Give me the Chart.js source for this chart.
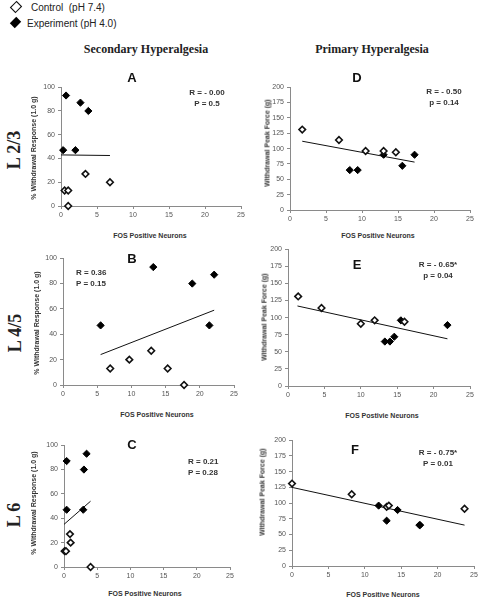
<!DOCTYPE html>
<html>
<head>
<meta charset="utf-8">
<script src="https://cdn.jsdelivr.net/npm/chart.js@4.4.1/dist/chart.umd.min.js"></script>
<style>
  body { margin: 0; background: #fff; }
  #page { position: relative; width: 480px; height: 600px; overflow: hidden; font-family: "Liberation Sans", Arial, sans-serif; color: #222; }
  .abs { position: absolute; white-space: nowrap; }
  canvas { position: absolute; }
  .rowlab { font-family: "Liberation Serif", "DejaVu Serif", serif; font-weight: bold; font-size: 18px; transform: translate(-50%, -50%) rotate(-90deg); }
  .colhead { font-family: "Liberation Serif", "DejaVu Serif", serif; font-weight: bold; font-size: 12px; transform: translate(-50%, -50%); }
  .xtitle { font-weight: bold; font-size: 7px; transform: translate(-50%, -50%); color: #333; }
  .ytitle { font-weight: bold; font-size: 7px; transform: translate(-50%, -50%) rotate(-90deg); color: #333; }
  .letter { font-size: 13px; font-weight: bold; transform: translate(-50%, -50%); color: #111; }
  .stat { font-size: 8px; line-height: 11px; text-align: center; font-weight: bold; color: #333; }
  .legend { font-size: 10px; color: #222; }
</style>
</head>
<body>
<div id="page">
  <div class="abs" style="left:12px;top:3px;width:6px;height:6px;border:1.5px solid #111;transform:rotate(45deg) scaleY(1.2);background:#fff"></div>
  <div class="abs legend" style="left:31px;top:2px">Control&nbsp; (pH 7.4)</div>
  <div class="abs" style="left:12px;top:19px;width:7px;height:7px;background:#000;transform:rotate(45deg) scaleY(1.3)"></div>
  <div class="abs legend" style="left:27px;top:18px">Experiment (pH 4.0)</div>

  <div class="abs colhead" style="left:146px;top:49px">Secondary Hyperalgesia</div>
  <div class="abs colhead" style="left:372px;top:49px">Primary Hyperalgesia</div>

  <div class="abs rowlab" style="left:14px;top:150px">L 2/3</div>
  <div class="abs rowlab" style="left:15px;top:333px">L 4/5</div>
  <div class="abs rowlab" style="left:14px;top:515px">L 6</div>
</div>
<script>
// ---- data ----
const xTicks = [0, 5, 10, 15, 20, 25];
const pctTicks = [0, 20, 40, 60, 80, 100];
const forceTicks = [0, 25, 50, 75, 100, 125, 150, 175, 200];

// A  (L 2/3, secondary)
const aControl = [[0.5, 13], [1.0, 13], [1.0, 0], [3.4, 27], [6.8, 20]];
const aExperiment = [[0.3, 47], [0.7, 93], [2.0, 47], [2.7, 87], [3.8, 80]];
const aTrend = [[0, 43], [6.8, 42.5]];
// D  (L 2/3, primary)
const dControl = [[1.7, 131], [6.8, 114], [10.5, 96], [13.0, 96], [14.7, 94]];
const dExperiment = [[8.3, 65], [9.4, 65], [13.0, 90], [15.6, 72], [17.3, 90]];
const dTrend = [[1.7, 112], [17.3, 78]];
// B  (L 4/5, secondary)
const bControl = [[6.9, 13], [9.7, 20], [12.9, 27], [15.3, 13], [17.7, 0]];
const bExperiment = [[5.5, 47], [13.2, 93], [18.9, 80], [21.4, 47], [22.1, 87]];
const bTrend = [[5.5, 24], [22.1, 59]];
// E  (L 4/5, primary)
const eControl = [[1.4, 131], [4.6, 114], [10.0, 91], [11.9, 96], [16.0, 94]];
const eExperiment = [[13.3, 65], [14.0, 65], [14.6, 72], [15.5, 96], [21.9, 89]];
const eTrend = [[1.3, 117], [21.9, 69]];
// C  (L 6, secondary)
const cControl = [[0.1, 13], [0.3, 13], [0.9, 27], [1.0, 20], [4.0, 0]];
const cExperiment = [[0.4, 87], [0.4, 47], [3.0, 80], [3.4, 93], [2.9, 47]];
const cTrend = [[0, 35], [4.0, 54]];
// F  (L 6, primary)
const fControl = [[0, 131], [8.2, 114], [13.0, 94], [13.3, 96], [23.7, 91]];
const fExperiment = [[11.9, 96], [13.0, 72], [14.5, 89], [17.5, 65], [17.6, 65]];
const fTrend = [[0, 125], [23.7, 65]];

const panels = [
  { id: 'A', control: aControl, exp: aExperiment, trend: aTrend, yMax: 100, yTicks: pctTicks,
    box: [61, 86, 241, 206], letter: [132, 77], stat: ['R = - 0.00', 'P = 0.5'], statPos: [207, 87, 'c'],
    ytitle: '% Withdrawal Response (1.0 g)', ytPos: [33, 148], xtitle: 'FOS Positive Neurons', xtPos: [150, 235] },
  { id: 'D', control: dControl, exp: dExperiment, trend: dTrend, yMax: 200, yTicks: forceTicks,
    box: [290, 86, 470, 210], letter: [357, 77], stat: ['R = - 0.50', 'p = 0.14'], statPos: [444, 86, 'c'],
    ytitle: 'Withdrawal Peak Force (g)', ytPos: [267, 143], xtitle: 'FOS Positive Neurons', xtPos: [378, 235] },
  { id: 'B', control: bControl, exp: bExperiment, trend: bTrend, yMax: 100, yTicks: pctTicks,
    box: [63, 257, 234, 385], letter: [132, 258], stat: ['R = 0.36', 'P = 0.15'], statPos: [76, 267, 'l'],
    ytitle: '% Withdrawal Response (1.0 g)', ytPos: [36, 323], xtitle: 'FOS Positive Neurons', xtPos: [157, 414] },
  { id: 'E', control: eControl, exp: eExperiment, trend: eTrend, yMax: 200, yTicks: forceTicks,
    box: [288, 248, 470, 386], letter: [357, 264], stat: ['R = - 0.65*', 'p = 0.04'], statPos: [438, 259, 'c'],
    ytitle: 'Withdrawal Peak Force (g)', ytPos: [264, 317], xtitle: 'FOS Postivie Neurons', xtPos: [382, 415] },
  { id: 'C', control: cControl, exp: cExperiment, trend: cTrend, yMax: 100, yTicks: pctTicks,
    box: [64, 444, 230, 567], letter: [132, 444], stat: ['R = 0.21', 'P = 0.28'], statPos: [188, 456, 'l'],
    ytitle: '% Withdrawal Response (1.0 g)', ytPos: [33, 503], xtitle: 'FOS Positive Neurons', xtPos: [145, 593] },
  { id: 'F', control: fControl, exp: fExperiment, trend: fTrend, yMax: 200, yTicks: forceTicks,
    box: [292, 439, 474, 566], letter: [355, 449], stat: ['R = - 0.75*', 'P = 0.01'], statPos: [438, 447, 'c'],
    ytitle: 'Withdrawal Peak Force (g)', ytPos: [262, 492], xtitle: 'FOS Positive Neurons', xtPos: [383, 594] }
];

const page = document.getElementById('page');
const toPts = arr => arr.map(p => ({ x: p[0], y: p[1] }));

function addText(cls, txt, x, y, extra) {
  const d = document.createElement('div');
  d.className = 'abs ' + cls;
  d.style.left = x + 'px';
  d.style.top = y + 'px';
  d.innerHTML = txt;
  if (extra) Object.assign(d.style, extra);
  page.appendChild(d);
}

const Y_W = 26, X_H = 14, PAD_T = 6, PAD_R = 10;

panels.forEach(p => {
  const [L, T, R, B] = p.box;
  const canvas = document.createElement('canvas');
  const w = (R - L) + Y_W + PAD_R;
  const h = (B - T) + PAD_T + X_H;
  canvas.style.left = (L - Y_W) + 'px';
  canvas.style.top = (T - PAD_T) + 'px';
  canvas.width = w;
  canvas.height = h;
  canvas.style.width = w + 'px';
  canvas.style.height = h + 'px';
  page.appendChild(canvas);

  const axisGrey = '#8a8a8a';
  new Chart(canvas.getContext('2d'), {
    type: 'scatter',
    data: {
      datasets: [
        { label: 'trend', type: 'line', data: toPts(p.trend), borderColor: '#111', borderWidth: 1,
          pointRadius: 0, fill: false, order: 3 },
        { label: 'Control (pH 7.4)', data: toPts(p.control), pointStyle: 'rectRot', pointRadius: 3.3,
          backgroundColor: '#fff', borderColor: '#111', borderWidth: 1.6, clip: false, order: 1 },
        { label: 'Experiment (pH 4.0)', data: toPts(p.exp), pointStyle: 'rectRot', pointRadius: 3.6,
          backgroundColor: '#000', borderColor: '#000', borderWidth: 1, clip: false, order: 2 }
      ]
    },
    options: {
      responsive: false,
      animation: false,
      layout: { padding: { top: PAD_T, right: PAD_R, left: 0, bottom: 0 } },
      plugins: { legend: { display: false }, tooltip: { enabled: false } },
      scales: {
        x: {
          type: 'linear', min: 0, max: 25,
          afterBuildTicks: s => { s.ticks = xTicks.map(v => ({ value: v })); },
          afterFit: s => { s.height = X_H; },
          grid: { drawOnChartArea: false, drawTicks: true, tickLength: 3, color: axisGrey },
          border: { color: axisGrey, width: 1 },
          ticks: { color: '#555', font: { size: 7, family: 'Liberation Sans' }, padding: 2, maxRotation: 0 }
        },
        y: {
          type: 'linear', min: 0, max: p.yMax,
          afterBuildTicks: s => { s.ticks = p.yTicks.map(v => ({ value: v })); },
          afterFit: s => { s.width = Y_W; },
          grid: { drawOnChartArea: false, drawTicks: true, tickLength: 3, color: axisGrey },
          border: { color: axisGrey, width: 1 },
          ticks: { color: '#555', font: { size: 7, family: 'Liberation Sans' }, padding: 3 }
        }
      }
    }
  });

  addText('letter', p.id, p.letter[0], p.letter[1]);
  const sp = p.statPos;
  if (sp[2] === 'c') {
    addText('stat', p.stat.join('<br>'), sp[0], sp[1], { transform: 'translateX(-50%)' });
  } else {
    addText('stat', p.stat.join('<br>'), sp[0], sp[1], { textAlign: 'left' });
  }
  addText('ytitle', p.ytitle, p.ytPos[0], p.ytPos[1]);
  addText('xtitle', p.xtitle, p.xtPos[0], p.xtPos[1]);
});
</script>
</body>
</html>
